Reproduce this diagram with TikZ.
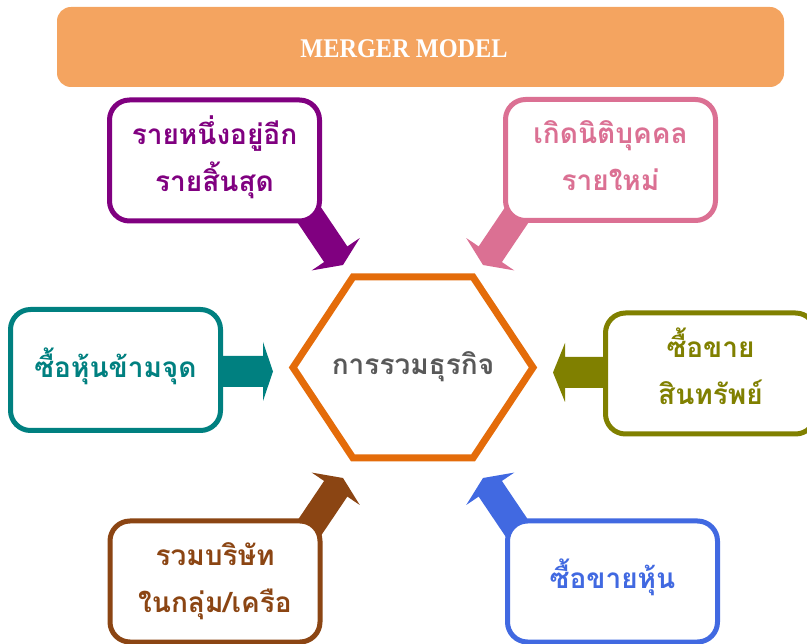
\documentclass[tikz,border=0pt]{standalone}
\usepackage{fontspec}
\setmainfont{Liberation Serif}
\newfontfamily\titlefont[FakeStretch=0.9]{Liberation Serif}
\newfontfamily\thaifont[Script=Thai]{Loma}
\newcommand\cardup{\rule{0pt}{34pt}}
\newcommand\carddown{\rule[-19pt]{0pt}{19pt}}
\definecolor{mpurple}{HTML}{800080}
\definecolor{mpink}{HTML}{DB7093}
\definecolor{mteal}{HTML}{008080}
\definecolor{molive}{HTML}{808000}
\definecolor{mbrown}{HTML}{8B4513}
\definecolor{mblue}{HTML}{4169E1}
\definecolor{morange}{HTML}{E46C0A}
\definecolor{mtitle}{HTML}{F4A460}
\definecolor{mgray}{HTML}{595959}
\begin{document}
\begin{tikzpicture}[x=1pt,y=-1pt,
  card/.style={draw=#1, text=#1, fill=white, line width=5pt, rounded corners=20pt,
    minimum width=210pt, minimum height=121pt, align=center, inner sep=0pt,
    font=\thaifont\bfseries\fontsize{28}{47}\selectfont},
  blockarrow/.style={fill=#1, draw=none}]
\useasboundingbox (0,0) rectangle (807,644);

% title
\node[fill=mtitle, rounded corners=14pt, minimum width=727pt, minimum height=80pt, inner sep=0pt] (title) at (420.5,47) {};
\node[text=white, font=\titlefont\bfseries\fontsize{27}{30}\selectfont, inner sep=0pt] (titletext) at (404,49) {MERGER MODEL};

% block arrows (drawn below the cards)
\fill[blockarrow=mpurple] (286.67,206.51) -- (324.12,262.05) -- (311.69,270.43) -- (343,265) -- (359.77,238.01) -- (347.34,246.39) -- (309.89,190.85) -- cycle;
\fill[blockarrow=mpink] (539.33,206.51) -- (501.88,262.05) -- (514.31,270.43) -- (483,265) -- (466.23,238.01) -- (478.66,246.39) -- (516.11,190.85) -- cycle;
\fill[blockarrow=mbrown] (286.67,536.49) -- (324.12,480.95) -- (311.69,472.57) -- (343,478) -- (359.77,504.99) -- (347.34,496.61) -- (309.89,552.15) -- cycle;
\fill[blockarrow=mblue] (539.33,536.49) -- (501.88,480.95) -- (514.31,472.57) -- (483,478) -- (466.23,504.99) -- (478.66,496.61) -- (516.11,552.15) -- cycle;
\fill[blockarrow=mteal] (200,356) -- (263,356) -- (263,342) -- (273,371.5) -- (263,401) -- (263,387) -- (200,387) -- cycle;
\fill[blockarrow=molive] (620,357) -- (565,357) -- (565,343) -- (553,372.5) -- (565,402) -- (565,388) -- (620,388) -- cycle;

% cards
\node[card=mpurple] (c1) at (214.5,160.5) {\cardup รายหนึ่งอยู่อีก\\รายสิ้นสุด\carddown};
\node[card=mpink] (c2) at (610.5,160) {\cardup เกิดนิติบุคคล\\รายใหม่\carddown};
\node[card=mteal] (c3) at (115.5,370) {\cardup ซื้อหุ้นข้ามจุด\carddown};
\node[card=molive] (c4) at (710.5,373.5) {\cardup ซื้อขาย\\สินทรัพย์\carddown};
\node[card=mbrown] (c5) at (215,581.5) {\cardup รวมบริษัท\\ในกลุ่ม/เครือ\carddown};
\node[card=mblue] (c6) at (612.5,581.5) {\cardup ซื้อขายหุ้น\carddown};

% hexagon
\draw[morange, line width=7pt, line join=miter] (293,367.5) -- (353,277) -- (473,277) -- (533,367.5) -- (473,458) -- (353,458) -- cycle;
\node[text=mgray, font=\thaifont\bfseries\fontsize{28}{30}\selectfont, inner sep=0pt] (hub) at (413,367.5) {\cardup การรวมธุรกิจ\carddown};
\end{tikzpicture}
\end{document}
